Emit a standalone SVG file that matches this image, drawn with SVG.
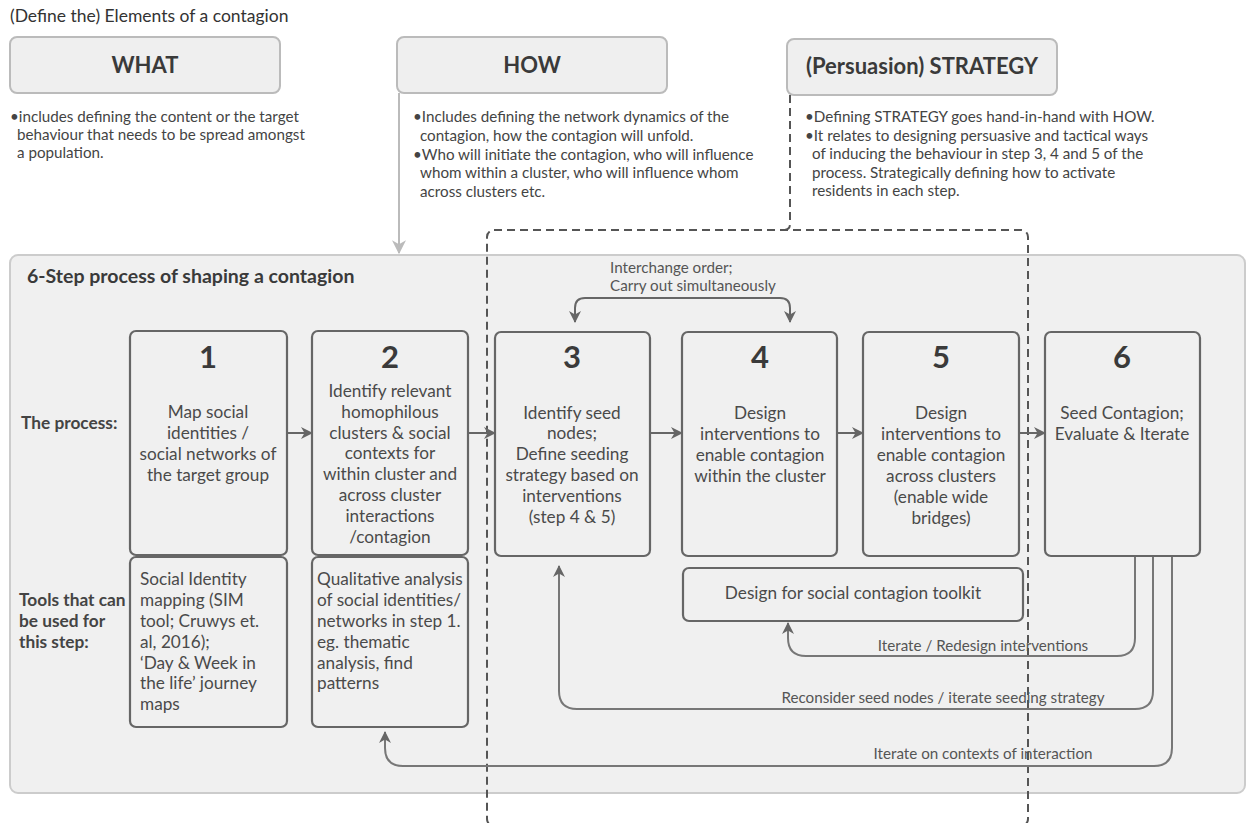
<svg xmlns="http://www.w3.org/2000/svg" width="1250" height="823" viewBox="0 0 1250 823">
<style>
text{font-family:Lato,"Open Sans","Liberation Sans",sans-serif;fill:#444}
.hd{fill:#efefef;stroke:#bbb;stroke-width:2}
.hdt{font-size:22px;font-weight:bold;fill:#3a3a3a;text-anchor:middle}
.bul{font-size:15.2px;fill:#444}
.box{fill:#f0f0f0;stroke:#666;stroke-width:2.2}
.num{font-size:31px;font-weight:bold;fill:#3a3a3a;text-anchor:middle}
.st{font-size:17.2px;text-anchor:middle;fill:#4a4a4a}
.tl{font-size:17.2px;fill:#4a4a4a}
.lab{font-size:17.3px;font-weight:bold;fill:#444}
.cn{fill:none;stroke:#666;stroke-width:2}
.lp{fill:none;stroke:#777;stroke-width:2}
.sm{font-size:15.2px;fill:#555}
.dash{fill:none;stroke:#555;stroke-width:2;stroke-dasharray:8 5}
</style>
<defs>
<marker id="ah" viewBox="0 0 12 12" refX="11" refY="6" markerWidth="12" markerHeight="12" markerUnits="userSpaceOnUse" orient="auto-start-reverse">
<path d="M0,0 L12,6 L0,12 L3.5,6 z" fill="#666"/>
</marker>
<marker id="ahg" viewBox="0 0 12 12" refX="11" refY="6" markerWidth="14" markerHeight="14" markerUnits="userSpaceOnUse" orient="auto">
<path d="M0,0 L12,6 L0,12 L3.5,6 z" fill="#bbb"/>
</marker>
</defs>

<text x="10" y="22" style="font-size:17.5px;fill:#333">(Define the) Elements of a contagion</text>

<g id="what">
<rect class="hd" x="10" y="37" width="270" height="56" rx="7"/>
<text class="hdt" x="145" y="73">WHAT</text>
<text class="bul" x="10" y="122">•includes defining the content or the target</text>
<text class="bul" x="17" y="140">behaviour that needs to be spread amongst</text>
<text class="bul" x="17" y="158">a population.</text>
</g>

<g id="how">
<rect class="hd" x="397" y="37" width="270" height="56" rx="7"/>
<text class="hdt" x="532" y="73">HOW</text>
<text class="bul" x="413" y="122">•Includes defining the network dynamics of the</text>
<text class="bul" x="420" y="141">contagion, how the contagion will unfold.</text>
<text class="bul" x="413" y="160">•Who will initiate the contagion, who will influence</text>
<text class="bul" x="420" y="178">whom within a cluster, who will influence whom</text>
<text class="bul" x="420" y="197">across clusters etc.</text>
</g>

<g id="strategy">
<rect class="hd" x="787" y="39" width="270" height="56" rx="7"/>
<text class="hdt" x="922" y="74">(Persuasion) STRATEGY</text>
<text class="bul" x="805" y="122">•Defining STRATEGY goes hand-in-hand with HOW.</text>
<text class="bul" x="805" y="141">•It relates to designing persuasive and tactical ways</text>
<text class="bul" x="812" y="159">of inducing the behaviour in step 3, 4 and 5 of the</text>
<text class="bul" x="812" y="178">process. Strategically defining how to activate</text>
<text class="bul" x="812" y="196">residents in each step.</text>
</g>

<g id="process">
<rect x="10" y="255" width="1235" height="538" rx="8" fill="#f0f0f0" stroke="#ccc" stroke-width="2"/>
<text x="27" y="283" style="font-size:19.5px;font-weight:bold;fill:#3a3a3a">6-Step process of shaping a contagion</text>
<text class="lab" x="21" y="429">The process:</text>
<text class="lab" x="19" y="606">Tools that can</text>
<text class="lab" x="19" y="627">be used for</text>
<text class="lab" x="19" y="648">this step:</text>
</g>

<g id="step1">
<rect class="box" x="130" y="331" width="157" height="224" rx="6"/>
<text class="num" x="208" y="368">1</text>
<text class="st" x="208" y="418">Map social</text>
<text class="st" x="208" y="439">identities /</text>
<text class="st" x="208" y="460">social networks of</text>
<text class="st" x="208" y="481">the target group</text>
</g>
<g id="step2">
<rect class="box" x="312" y="331" width="156" height="224" rx="6"/>
<text class="num" x="390" y="368">2</text>
<text class="st" x="390" y="397">Identify relevant</text>
<text class="st" x="390" y="418">homophilous</text>
<text class="st" x="390" y="439">clusters &amp; social</text>
<text class="st" x="390" y="459">contexts for</text>
<text class="st" x="390" y="480">within cluster and</text>
<text class="st" x="390" y="501">across cluster</text>
<text class="st" x="390" y="522">interactions</text>
<text class="st" x="390" y="543">/contagion</text>
</g>
<g id="step3">
<rect class="box" x="495" y="332" width="155" height="224" rx="6"/>
<text class="num" x="572" y="368">3</text>
<text class="st" x="572" y="419">Identify seed</text>
<text class="st" x="572" y="439">nodes;</text>
<text class="st" x="572" y="460">Define seeding</text>
<text class="st" x="572" y="481">strategy based on</text>
<text class="st" x="572" y="502">interventions</text>
<text class="st" x="572" y="523">(step 4 &amp; 5)</text>
</g>
<g id="step4">
<rect class="box" x="682" y="332" width="155" height="224" rx="6"/>
<text class="num" x="760" y="368">4</text>
<text class="st" x="760" y="419">Design</text>
<text class="st" x="760" y="440">interventions to</text>
<text class="st" x="760" y="461">enable contagion</text>
<text class="st" x="760" y="482">within the cluster</text>
</g>
<g id="step5">
<rect class="box" x="863" y="332" width="156" height="224" rx="6"/>
<text class="num" x="941" y="368">5</text>
<text class="st" x="941" y="419">Design</text>
<text class="st" x="941" y="440">interventions to</text>
<text class="st" x="941" y="461">enable contagion</text>
<text class="st" x="941" y="482">across clusters</text>
<text class="st" x="941" y="503">(enable wide</text>
<text class="st" x="941" y="524">bridges)</text>
</g>
<g id="step6">
<rect class="box" x="1045" y="332" width="155" height="224" rx="6"/>
<text class="num" x="1122" y="368">6</text>
<text class="st" x="1122" y="419">Seed Contagion;</text>
<text class="st" x="1122" y="440">Evaluate &amp; Iterate</text>
</g>

<g id="tools1">
<rect class="box" x="130" y="557" width="157" height="170" rx="6"/>
<text class="tl" x="140" y="585">Social Identity</text>
<text class="tl" x="140" y="606">mapping (SIM</text>
<text class="tl" x="140" y="627">tool; Cruwys et.</text>
<text class="tl" x="140" y="648">al, 2016);</text>
<text class="tl" x="140" y="669">‘Day &amp; Week in</text>
<text class="tl" x="140" y="689">the life’ journey</text>
<text class="tl" x="140" y="710">maps</text>
</g>
<g id="tools2">
<rect class="box" x="312" y="557" width="156" height="170" rx="6"/>
<text class="tl" x="317" y="585">Qualitative analysis</text>
<text class="tl" x="317" y="606">of social identities/</text>
<text class="tl" x="317" y="627">networks in step 1.</text>
<text class="tl" x="317" y="648">eg. thematic</text>
<text class="tl" x="317" y="669">analysis, find</text>
<text class="tl" x="317" y="689">patterns</text>
</g>
<g id="toolkit">
<rect class="box" x="683" y="568" width="340" height="53" rx="6"/>
<text class="st" x="853" y="599">Design for social contagion toolkit</text>
</g>

<g id="connectors">
<line x1="399" y1="93" x2="399" y2="253" stroke="#bbb" stroke-width="2" marker-end="url(#ahg)"/>
<path class="dash" d="M790,95 V224 Q790,230 784,230"/>
<rect class="dash" x="487" y="230" width="541" height="596" rx="7"/>
<line class="cn" x1="287" y1="433" x2="312" y2="433" marker-end="url(#ah)"/>
<line class="cn" x1="468" y1="433" x2="495" y2="433" marker-end="url(#ah)"/>
<line class="cn" x1="650" y1="433" x2="682" y2="433" marker-end="url(#ah)"/>
<line class="cn" x1="837" y1="433" x2="863" y2="433" marker-end="url(#ah)"/>
<line class="cn" x1="1019" y1="433" x2="1045" y2="433" marker-end="url(#ah)"/>
<path class="cn" d="M575,322 V308 Q575,298 585,298 H780 Q790,298 790,308 V322" marker-start="url(#ah)" marker-end="url(#ah)"/>
<text class="sm" x="610" y="273">Interchange order;</text>
<text class="sm" x="610" y="291">Carry out simultaneously</text>
<path class="lp" d="M1135,557 V638 Q1135,656 1117,656 H806 Q788,656 788,638 V623" marker-end="url(#ah)"/>
<text class="sm" x="983" y="651" text-anchor="middle">Iterate / Redesign interventions</text>
<path class="lp" d="M1153,557 V691 Q1153,709 1135,709 H577 Q559,709 559,691 V566" marker-end="url(#ah)"/>
<text class="sm" x="943" y="703" text-anchor="middle">Reconsider seed nodes / iterate seeding strategy</text>
<path class="lp" d="M1172,557 V748 Q1172,766 1154,766 H403 Q385,766 385,748 V732" marker-end="url(#ah)"/>
<text class="sm" x="983" y="759" text-anchor="middle">Iterate on contexts of interaction</text>
</g>
</svg>
